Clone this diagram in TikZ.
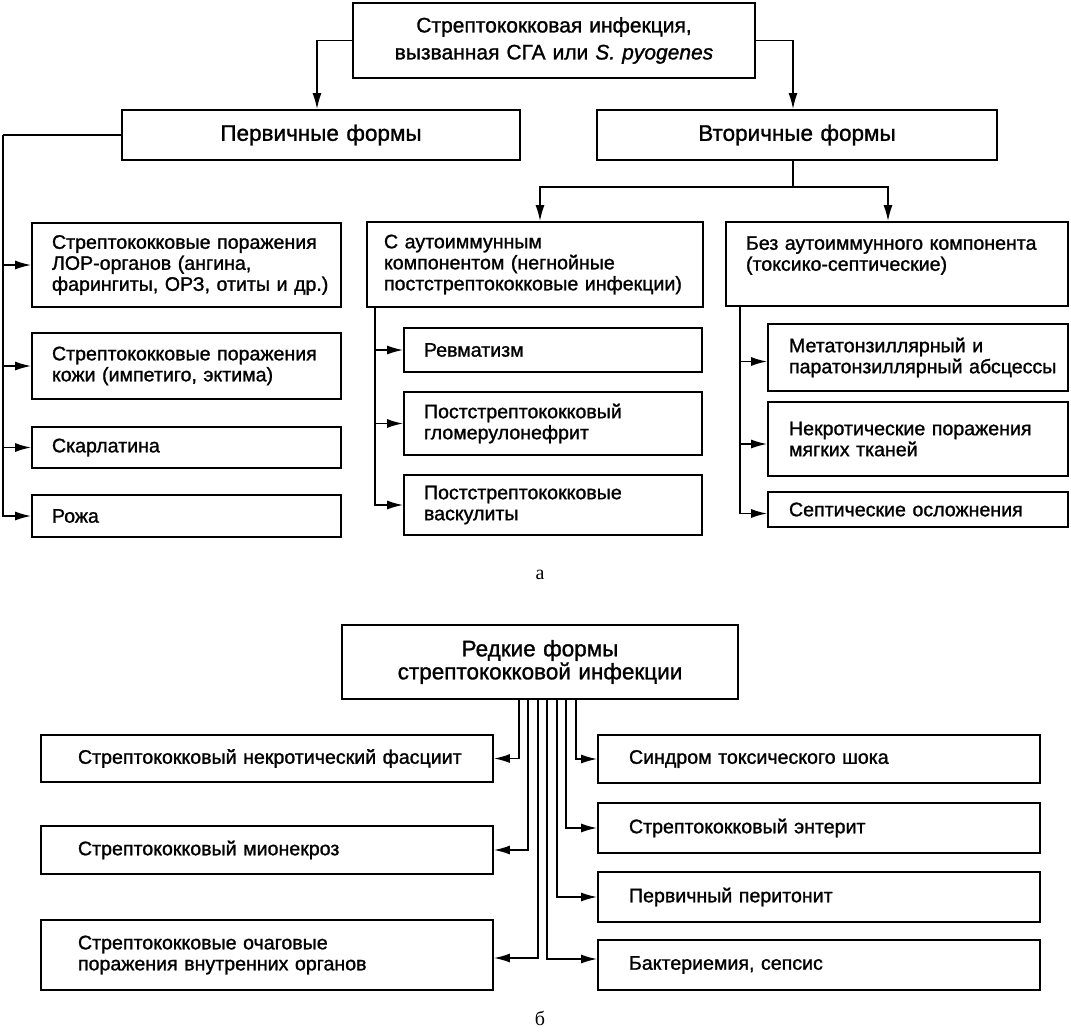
\documentclass[tikz,border=0pt]{standalone}
\usepackage{fontspec}
\setmainfont{Liberation Sans}[FakeBold=1.2]
\newfontfamily\lblfont{Liberation Serif}
\usetikzlibrary{arrows.meta,calc}
\newcommand{\mybox}[8]{%
  \pgfmathsetmacro{\mbW}{#4-#2}%
  \pgfmathsetmacro{\mbH}{#5-#3}%
  \pgfmathsetmacro{\mbT}{#4-#2-2*#6}%
  \pgfmathsetmacro{\mbX}{(#2+#4)/2}%
  \pgfmathsetmacro{\mbY}{-(#3+#5)/2}%
  \node[box, minimum width=\mbW pt, minimum height=\mbH pt, text width=\mbT pt, inner xsep=#6pt, #7] (#1) at (\mbX,\mbY) {#8};}
\tikzset{
  box/.style={draw, line width=1.7pt, inner ysep=2pt, align=left, font=\fontsize{19.6}{21}\selectfont},
  ctr/.style={align=center},
  conn/.style={line width=1.7pt},
  arr/.style={line width=1.7pt, -{Latex[length=16pt,width=9pt]}},
  lbl/.style={font=\lblfont\fontsize{20}{21}\selectfont}
}
\begin{document}
\begin{tikzpicture}[x=1pt,y=1pt]
\useasboundingbox (0,0) rectangle (1071,-1031);
\fill[white] (0,0) rectangle (1071,-1031);
% part a
\mybox{top}{353}{3}{755}{78}{5}{ctr, font=\fontsize{21}{27}\selectfont}{Стрептококковая инфекция,\\вызванная СГА или \textit{S. pyogenes}}
\mybox{prim}{122}{110}{520}{160}{5}{ctr, font=\fontsize{22.5}{25}\selectfont}{Первичные формы}
\mybox{sec}{597}{110}{997}{160}{5}{ctr, font=\fontsize{22.5}{25}\selectfont}{Вторичные формы}
\mybox{lor}{32}{223}{341}{307}{20}{}{\mbox{Стрептококковые поражения}\\\mbox{ЛОР-органов (ангина,}\\\mbox{фарингиты, ОРЗ, отиты и др.)}}
\mybox{skin}{32}{333}{341}{399}{20}{}{\mbox{Стрептококковые поражения}\\\mbox{кожи (импетиго, эктима)}}
\mybox{scar}{32}{427}{341}{468}{20}{}{Скарлатина}
\mybox{rozha}{32}{495}{341}{537}{20}{}{Рожа}
\mybox{auto}{367}{222}{703}{307}{17}{}{\mbox{С аутоиммунным}\\\mbox{компонентом (негнойные}\\\mbox{постстрептококковые инфекции)}}
\mybox{revm}{404}{328}{702}{372}{20}{}{Ревматизм}
\mybox{glom}{404}{392}{702}{455}{20}{}{\mbox{Постстрептококковый}\\\mbox{гломерулонефрит}}
\mybox{vasc}{404}{475}{702}{535}{20}{}{\mbox{Постстрептококковые}\\\mbox{васкулиты}}
\mybox{bez}{726}{222}{1068}{306}{20}{}{\mbox{Без аутоиммунного компонента}\\\mbox{(токсико-септические)}\\\mbox{}}
\mybox{meta}{768}{324}{1068}{391}{21}{}{\mbox{Метатонзиллярный и}\\\mbox{паратонзиллярный абсцессы}}
\mybox{nekr}{768}{402}{1068}{476}{21}{}{\mbox{Некротические поражения}\\\mbox{мягких тканей}}
\mybox{sept}{768}{492}{1068}{527}{21}{}{\mbox{Септические осложнения}}
\node[lbl] (la) at (540,-575) {а};
% connectors a
\draw[arr] (top.west) -| ([xshift=-4pt]prim.north);
\draw[arr] (top.east) -| ([xshift=-4pt]sec.north);
\coordinate (L) at (3,-135);
\draw[conn] (prim.west) -- (L);
\draw[arr] (L) |- (rozha.west);
\draw[arr] (L |- lor.west) -- (lor.west);
\draw[arr] (L |- skin.west) -- (skin.west);
\draw[arr] (L |- scar.west) -- (scar.west);
\coordinate (S) at (793,-187);
\draw[conn] ([xshift=-4pt]sec.south) -- (S);
\draw[arr] (S) -| ([xshift=5pt]auto.north);
\draw[arr] (S) -| ([xshift=-9pt]bez.north);
\coordinate (A) at (375,-307);
\draw[arr] (A) |- (vasc.west);
\draw[arr] (A |- revm.west) -- (revm.west);
\draw[arr] (A |- glom.west) -- (glom.west);
\coordinate (B) at (740,-306);
\draw[arr] (B) |- ([yshift=-4pt]sept.west);
\draw[arr] (B |- meta.west) ++(0,-4) -- ([yshift=-4pt]meta.west);
\draw[arr] (B |- nekr.west) ++(0,-5) -- ([yshift=-5pt]nekr.west);
% part b
\mybox{rare}{342}{625}{738}{699}{5}{ctr, font=\fontsize{22.5}{23}\selectfont}{Редкие формы\\стрептококковой инфекции}
\mybox{fasc}{41}{735}{493}{782}{37}{}{\mbox{Стрептококковый некротический фасциит}}
\mybox{mion}{41}{826}{493}{874}{37}{}{\mbox{Стрептококковый мионекроз}}
\mybox{organs}{41}{920}{493}{990}{37}{}{\mbox{Стрептококковые очаговые}\\\mbox{поражения внутренних органов}}
\mybox{sind}{598}{735}{1040}{783}{31}{}{\mbox{Синдром токсического шока}}
\mybox{enter}{598}{803}{1040}{853}{31}{}{\mbox{Стрептококковый энтерит}}
\mybox{perit}{598}{872}{1040}{922}{31}{}{\mbox{Первичный перитонит}}
\mybox{bact}{598}{940}{1040}{990}{31}{}{\mbox{Бактериемия, сепсис}}
\node[lbl] (lb) at (540,-1018) {б};
% connectors b
\coordinate (r1) at ($(rare.south west)+(178,0)$);
\coordinate (r2) at ($(rare.south west)+(187,0)$);
\coordinate (r3) at ($(rare.south west)+(197,0)$);
\coordinate (r4) at ($(rare.south west)+(206,0)$);
\coordinate (r5) at ($(rare.south west)+(216,0)$);
\coordinate (r6) at ($(rare.south west)+(225,0)$);
\coordinate (r7) at ($(rare.south west)+(235,0)$);
\draw[arr] (r1) |- (fasc.east);
\draw[arr] (r2) |- (mion.east);
\draw[arr] (r3) |- ([yshift=-3pt]organs.east);
\draw[arr] (r4) |- ([yshift=6pt]bact.west);
\draw[arr] (r5) |- (perit.west);
\draw[arr] (r6) |- (enter.west);
\draw[arr] (r7) |- (sind.west);
\end{tikzpicture}
\end{document}
